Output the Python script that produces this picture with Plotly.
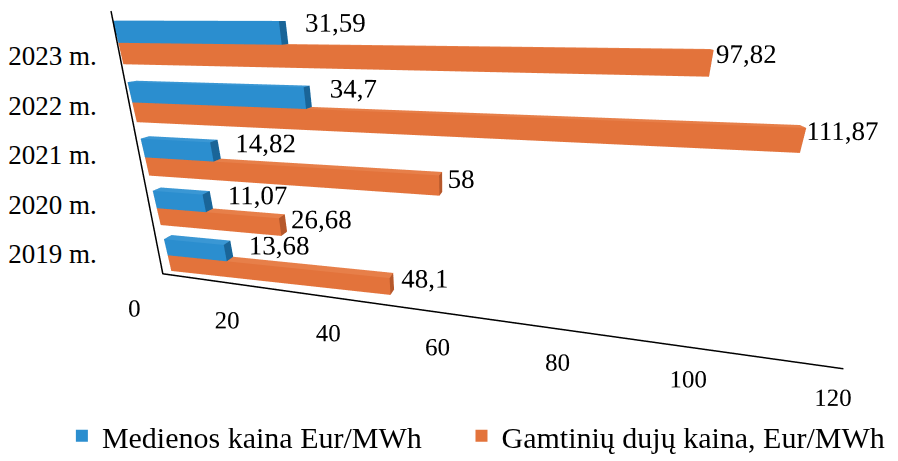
import plotly.graph_objects as go

# ---- data ----
years = ["2019 m.", "2020 m.", "2021 m.", "2022 m.", "2023 m."]
wood = [13.68, 11.07, 14.82, 34.7, 31.59]
gas = [48.1, 26.68, 58, 111.87, 97.82]
wood_text = ["13,68", "11,07", "14,82", "34,7", "31,59"]
gas_text = ["48,1", "26,68", "58", "111,87", "97,82"]
tick_vals = [0, 20, 40, 60, 80, 100, 120]
tick_text = ["0", "20", "40", "60", "80", "100", "120"]
series_names = ["Medienos kaina Eur/MWh", "Gamtinių dujų kaina, Eur/MWh"]

# ---- style ----
BLUE = dict(front="#2b8ecf", top="#3a97d4", end="#1a6598")
ORANGE = dict(front="#e3733b", top="#e77f49", end="#b6582b")
FONT = "Liberation Serif"
D = 0.28           # bar depth (data units along y)
XR, YR, ZR = (-5, 125), (-1.5, 1.0), (-1.2, 5.2)
SX, SY, SZ = 3.3802 / 130, 0.2, 0.27            # scene units per data unit
EYE = (78.2, -10.55, 4.93)                       # camera position (data units)
LOOK = (61.1, 0.0, 1.74)                         # look-at point (data units)
YF = -1.4                                        # depth of the value-axis labels


def norm(p):
    mids = [(r[0] + r[1]) / 2 for r in (XR, YR, ZR)]
    return dict(x=(p[0] - mids[0]) * SX, y=(p[1] - mids[1]) * SY, z=(p[2] - mids[2]) * SZ)


def boxes(values, za_off, zb_off, col):
    X, Y, Z, I, J, K, FC = [], [], [], [], [], [], []
    faces = [((0, 1, 5), "front"), ((0, 5, 4), "front"),
             ((3, 2, 6), "front"), ((3, 6, 7), "front"),
             ((0, 1, 2), "end"), ((0, 2, 3), "end"),
             ((4, 5, 6), "top"), ((4, 6, 7), "top"),
             ((0, 3, 7), "end"), ((0, 7, 4), "end"),
             ((1, 2, 6), "end"), ((1, 6, 5), "end")]
    for idx, v in enumerate(values):
        za, zb = idx + za_off, idx + zb_off
        base = len(X)
        for (x, y, z) in [(0, 0, za), (v, 0, za), (v, D, za), (0, D, za),
                          (0, 0, zb), (v, 0, zb), (v, D, zb), (0, D, zb)]:
            X.append(x); Y.append(y); Z.append(z)
        for (a, b, c), f in faces:
            I.append(base + a); J.append(base + b); K.append(base + c)
            FC.append(col[f])
    return go.Mesh3d(x=X, y=Y, z=Z, i=I, j=J, k=K, facecolor=FC,
                     flatshading=True, hoverinfo="skip", showlegend=False,
                     lighting=dict(ambient=1, diffuse=0, specular=0,
                                   roughness=1, fresnel=0))


def text3d(x, y, z, text, pos, size):
    return go.Scatter3d(x=x, y=y, z=z, mode="text", text=text, textposition=pos,
                        textfont=dict(family=FONT, size=size, color="black"),
                        hoverinfo="skip", showlegend=False)


fig = go.Figure()
fig.add_trace(boxes(gas, 0.15, 0.5, ORANGE))
fig.add_trace(boxes(wood, 0.5, 0.85, BLUE))

n = len(years)
# axis frame: wall edge and floor edge
fig.add_trace(go.Scatter3d(x=[0, 0, 120], y=[0.0, -0.3, YF], z=[5.0, 0.2, 0.4],
                           mode="lines", line=dict(color="black", width=3),
                           hoverinfo="skip", showlegend=False))

# data labels
fig.add_trace(text3d(list(wood), [0] * n, [i + 0.8 for i in range(n)],
                     wood_text, "middle right", 27))
fig.add_trace(text3d([v - 3 for v in gas], [0] * n, [i + 0.42 for i in range(n)],
                     gas_text, "middle right", 27))
# value-axis tick labels
fig.add_trace(text3d(tick_vals, [YF] * len(tick_vals), [-0.1] * len(tick_vals),
                     tick_text, "middle center", 25))

# legend entries (one legend per series); they also carry the category axis
for k, (name, col) in enumerate(zip(series_names, [BLUE, ORANGE])):
    fig.add_trace(go.Scatter(x=[None] * n, y=years, mode="markers", name=name,
                             legend="legend" if k == 0 else "legend2",
                             marker=dict(symbol="square", size=12, color=col["front"])))

fig.update_layout(
    width=898, height=461,
    margin=dict(l=0, r=0, t=0, b=0),
    paper_bgcolor="white", plot_bgcolor="rgba(0,0,0,0)",
    font=dict(family=FONT, color="black"),
    xaxis=dict(visible=False, domain=[0.10, 1.0], range=[0, 1]),
    yaxis=dict(type="category", categoryorder="array", categoryarray=years,
               range=[-0.5, n - 0.5], domain=[0.4127, 0.9496],
               showgrid=False, zeroline=False, showline=False, ticks="",
               tickfont=dict(family=FONT, size=27, color="black")),
    scene=dict(
        domain=dict(x=[0.0, 1.0], y=[0.08, 1.0]),
        xaxis=dict(visible=False, range=list(XR)),
        yaxis=dict(visible=False, range=list(YR)),
        zaxis=dict(visible=False, range=list(ZR)),
        aspectmode="manual",
        aspectratio=dict(x=SX * (XR[1] - XR[0]), y=SY * (YR[1] - YR[0]),
                         z=SZ * (ZR[1] - ZR[0])),
        camera=dict(eye=norm(EYE), center=norm(LOOK), up=dict(x=0, y=0, z=1),
                    projection=dict(type="perspective")),
        bgcolor="rgba(0,0,0,0)",
    ),
    legend=dict(orientation="h", x=0.060, y=0.072, xanchor="left", yanchor="middle",
                font=dict(family=FONT, size=30), bgcolor="rgba(0,0,0,0)"),
    legend2=dict(orientation="h", x=0.505, y=0.072, xanchor="left", yanchor="middle",
                 font=dict(family=FONT, size=30), bgcolor="rgba(0,0,0,0)"),
)
fig.write_html("out.html")
